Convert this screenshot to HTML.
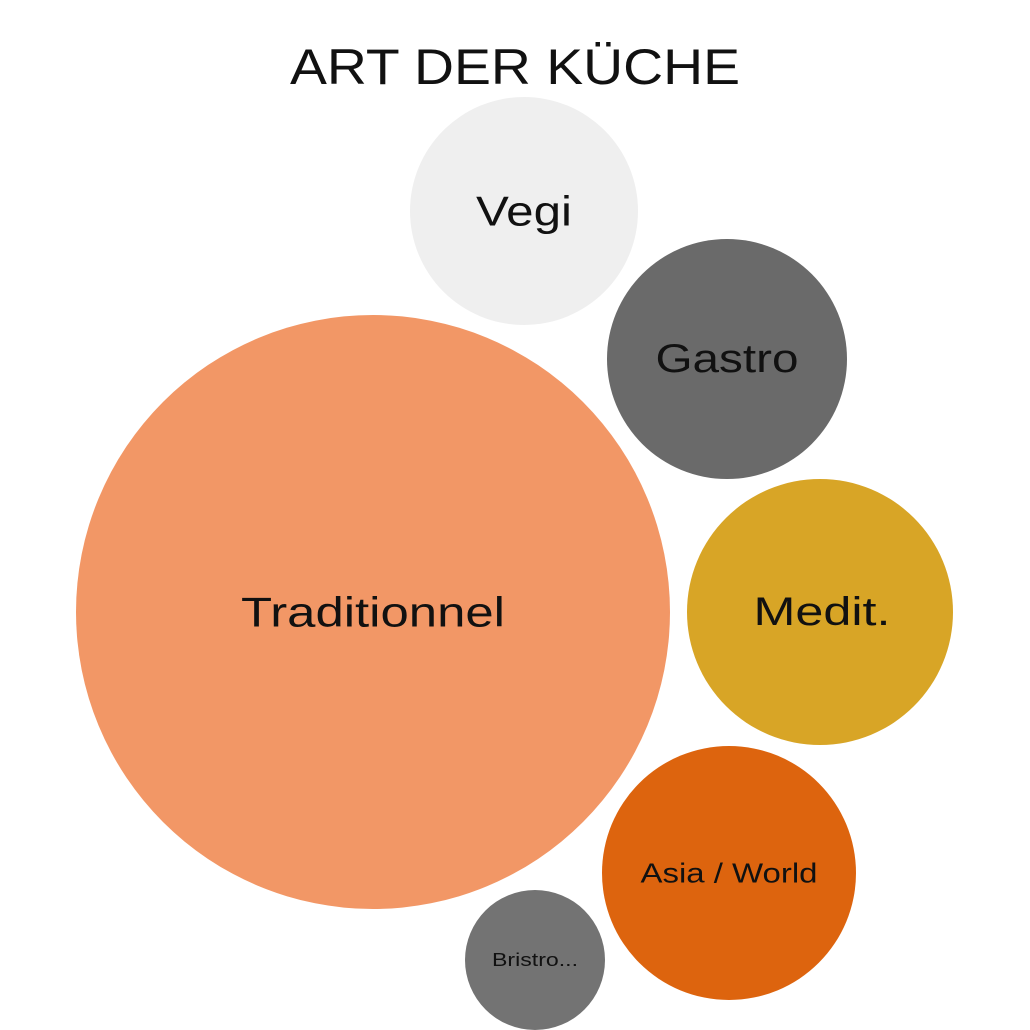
<!DOCTYPE html>
<html><head><meta charset="utf-8"><style>
html,body{margin:0;padding:0;background:#fff;}
svg{display:block;}
text{font-family:"Liberation Sans",sans-serif;fill:#111;text-anchor:middle;dominant-baseline:central;}
</style></head><body>
<svg width="1030" height="1030" viewBox="0 0 1030 1030">
<text x="515" y="67" font-size="50" textLength="450" lengthAdjust="spacingAndGlyphs">ART DER KÜCHE</text>
<circle cx="524" cy="211" r="114" fill="#efefef"/>
<text x="524" y="211" font-size="42" textLength="96" lengthAdjust="spacingAndGlyphs">Vegi</text>
<circle cx="727" cy="359" r="120" fill="#6a6a6a"/>
<text x="727" y="359" font-size="40" textLength="143" lengthAdjust="spacingAndGlyphs">Gastro</text>
<circle cx="373" cy="612" r="297" fill="#f29766"/>
<text x="373" y="612" font-size="42" textLength="264" lengthAdjust="spacingAndGlyphs">Traditionnel</text>
<circle cx="820" cy="612" r="133" fill="#d8a526"/>
<text x="822" y="612" font-size="40" textLength="137" lengthAdjust="spacingAndGlyphs">Medit.</text>
<circle cx="729" cy="873" r="127" fill="#dd640e"/>
<text x="729" y="873" font-size="28" textLength="177" lengthAdjust="spacingAndGlyphs">Asia / World</text>
<circle cx="535" cy="960" r="70" fill="#737373"/>
<text x="535" y="960" font-size="18" textLength="86" lengthAdjust="spacingAndGlyphs">Bristro...</text>
</svg>
</body></html>
